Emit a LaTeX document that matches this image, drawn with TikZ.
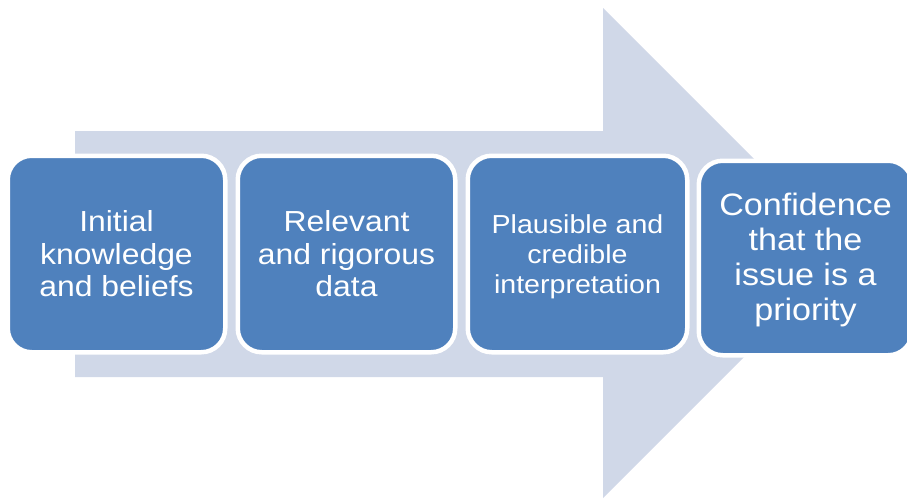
\documentclass[tikz,border=0pt]{standalone}
\usepackage{fontspec}
\setmainfont{Liberation Sans}
\newfontfamily\boxfont[FakeStretch=1.1]{Liberation Sans}
\definecolor{stepblue}{HTML}{4F81BD}
\definecolor{flowarrow}{HTML}{D0D8E8}
\begin{document}
\begin{tikzpicture}[x=1pt,y=-1pt,
  stepbox/.style={draw=white, line width=4.5pt, fill=stepblue, rounded corners=24pt,
    text=white, align=center, inner sep=0pt, outer sep=0pt,
    minimum width=217.5pt, minimum height=196.5pt},
  bigtext/.style={font=\boxfont\fontsize{29}{32.5}\selectfont},
  smalltext/.style={font=\boxfont\fontsize{26}{30}\selectfont},
  largetext/.style={font=\boxfont\fontsize{31}{35}\selectfont}]
\useasboundingbox (0,0) rectangle (907,501);
\clip (0,0) rectangle (907,501);

% background flow arrow
\fill[flowarrow] (75,131) -- (603,131) -- (603,8) -- (848,253)
  -- (603,498) -- (603,377) -- (75,377) -- cycle;

% process steps (struts in the first line lower the text block slightly)
\node[stepbox, bigtext] (s1) at (116.5,254) {Initial\\knowledge\\and beliefs};
\node[stepbox, bigtext] (s2) at (346.5,254) {Relevant\\and rigorous\\data};
\node[stepbox, smalltext, minimum width=219.5pt] (s3) at (577.5,254)
  {\rule{0pt}{24pt}Plausible and\\credible\\interpretation};
\node[stepbox, largetext, minimum width=213.5pt, minimum height=194.5pt] (s4) at (805.5,258)
  {\rule{0pt}{26.5pt}Confidence\\that the\\issue is a\\priority};
\end{tikzpicture}
\end{document}
